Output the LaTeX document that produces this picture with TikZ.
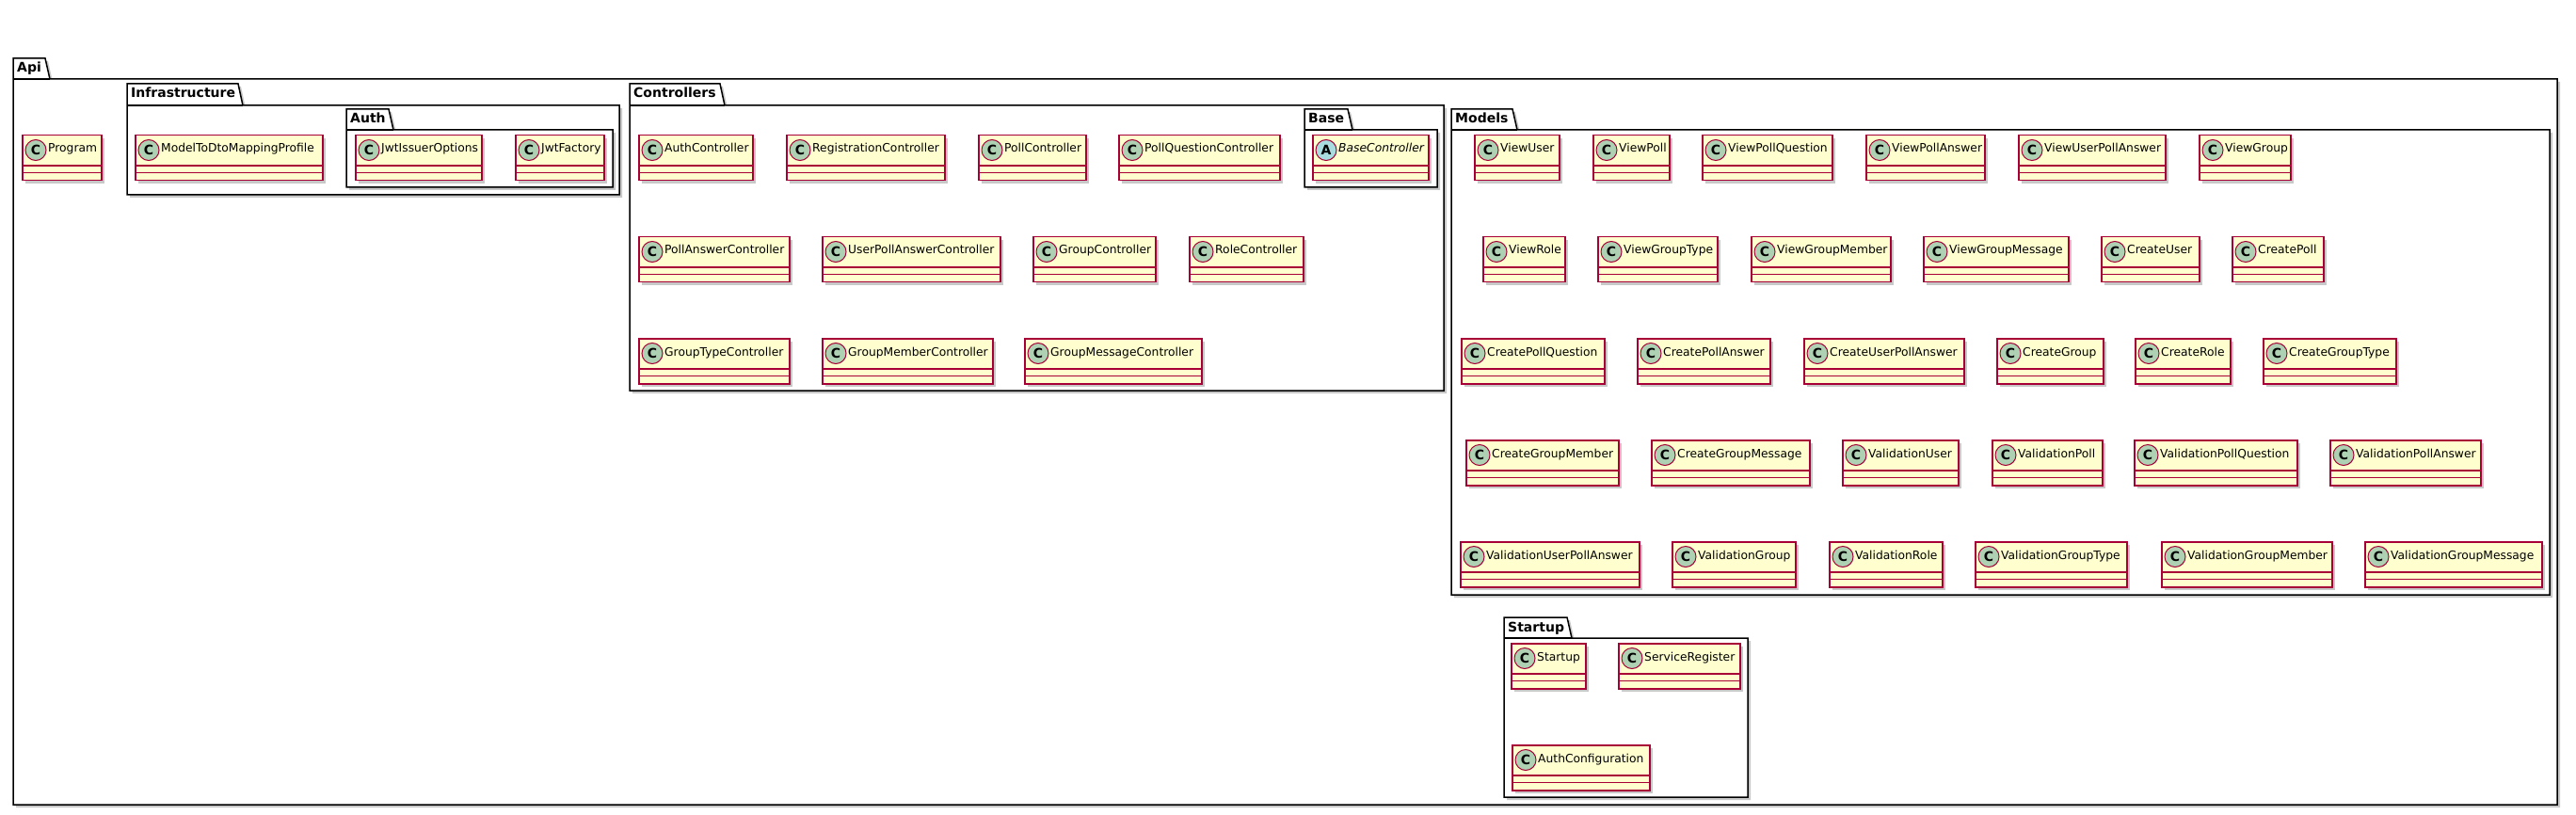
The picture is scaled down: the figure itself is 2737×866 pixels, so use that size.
\documentclass[tikz,border=0pt]{standalone}
\usepackage{fontspec}
\setmainfont{DejaVu Sans}[BoldFont={DejaVu Sans Bold},ItalicFont={DejaVu Sans Oblique}]
\usetikzlibrary{shadows}
\definecolor{clsfill}{HTML}{FEFECE}
\definecolor{clsborder}{HTML}{A80036}
\definecolor{circC}{HTML}{ADD1B2}
\definecolor{circA}{HTML}{A9DCDF}
\tikzset{
  shd/.style={drop shadow={shadow xshift=3pt,shadow yshift=-3pt,opacity=0.3,fill=black!70}},
  classbox/.style={rectangle, anchor=north west, minimum height=48pt, inner sep=0pt, draw=clsborder, fill=clsfill, line width=1.5pt, shd},
  classline/.style={draw=clsborder, line width=1.2pt},
  spot/.style={circle, minimum size=22pt, inner sep=0pt, draw=clsborder, line width=1pt, font=\bfseries\fontsize{14}{14}\selectfont},
  clsname/.style={anchor=base west, inner sep=0pt, font=\fontsize{12.3}{14}\selectfont},
  pkgline/.style={draw=black, line width=1.5pt, fill=white, shd},
  pkgname/.style={anchor=base west, inner sep=0pt, font=\bfseries\fontsize{14}{16}\selectfont},
}
\newcommand\umlcls[6][]{%
  \node[classbox, minimum width=#5pt] (#6) at (#3,#4) {};
  \draw[classline] ([yshift=-33pt]#6.north west) -- ([yshift=-33pt]#6.north east);
  \draw[classline] ([yshift=-40.5pt]#6.north west) -- ([yshift=-40.5pt]#6.north east);
  \node[spot, fill=circ#2] (#6-spot) at ([xshift=15pt,yshift=-16.5pt]#6.north west) {#2};
  \node[clsname] (#6-name) at ([xshift=28pt,yshift=-19pt]#6.north west) {#1#6};
}
\newcommand\umlpkg[7]{%
  \draw[pkgline] (#1,#4) -- (#1,#2) -- ({#3-5},#2) -- (#3,#4) -- (#5,#4) -- (#5,#6) -- (#1,#6) -- cycle;
  \draw[line width=1.5pt] (#1,#4) -- (#3,#4);
  \node[pkgname] (pkg-#7) at ({#1+4},{#2+15}) {#7};
}
\begin{document}
\begin{tikzpicture}[x=1pt,y=-1pt]
\useasboundingbox[fill=white] (0,0) rectangle (2737,866);
% packages
\umlpkg{14}{62}{53}{84}{2717}{855}{Api}
\umlpkg{135}{89}{258}{112}{658}{207}{Infrastructure}
\umlpkg{368}{116}{418}{138}{651}{199}{Auth}
\umlpkg{669}{89}{770}{112}{1534}{415}{Controllers}
\umlpkg{1386}{116}{1437}{138}{1527}{199}{Base}
\umlpkg{1542}{116}{1612}{138}{2709}{632}{Models}
\umlpkg{1598}{656}{1670}{678}{1857}{847}{Startup}
% Api / Infrastructure
\umlcls{C}{23}{143}{84}{Program}
\umlcls{C}{143}{143}{199}{ModelToDtoMappingProfile}
\umlcls{C}{377}{143}{134}{JwtIssuerOptions}
\umlcls{C}{547}{143}{94}{JwtFactory}
% Controllers
\umlcls{C}{678}{143}{121}{AuthController}
\umlcls{C}{835}{143}{168}{RegistrationController}
\umlcls{C}{1039}{143}{114}{PollController}
\umlcls{C}{1188}{143}{171}{PollQuestionController}
\umlcls[\itshape]{A}{1394}{143}{123}{BaseController}
\umlcls{C}{678}{251}{160}{PollAnswerController}
\umlcls{C}{873}{251}{189}{UserPollAnswerController}
\umlcls{C}{1097}{251}{130}{GroupController}
\umlcls{C}{1263}{251}{121}{RoleController}
\umlcls{C}{678}{359}{160}{GroupTypeController}
\umlcls{C}{873}{359}{181}{GroupMemberController}
\umlcls{C}{1088}{359}{188}{GroupMessageController}
% Models
\umlcls{C}{1566}{143}{90}{ViewUser}
\umlcls{C}{1692}{143}{81}{ViewPoll}
\umlcls{C}{1808}{143}{138}{ViewPollQuestion}
\umlcls{C}{1982}{143}{126}{ViewPollAnswer}
\umlcls{C}{2144}{143}{156}{ViewUserPollAnswer}
\umlcls{C}{2336}{143}{97}{ViewGroup}
\umlcls{C}{1575}{251}{87}{ViewRole}
\umlcls{C}{1697}{251}{127}{ViewGroupType}
\umlcls{C}{1860}{251}{148}{ViewGroupMember}
\umlcls{C}{2043}{251}{154}{ViewGroupMessage}
\umlcls{C}{2232}{251}{104}{CreateUser}
\umlcls{C}{2371}{251}{97}{CreatePoll}
\umlcls{C}{1552}{359}{152}{CreatePollQuestion}
\umlcls{C}{1739}{359}{141}{CreatePollAnswer}
\umlcls{C}{1916}{359}{170}{CreateUserPollAnswer}
\umlcls{C}{2121}{359}{113}{CreateGroup}
\umlcls{C}{2268}{359}{101}{CreateRole}
\umlcls{C}{2404}{359}{141}{CreateGroupType}
\umlcls{C}{1557}{467}{162}{CreateGroupMember}
\umlcls{C}{1754}{467}{168}{CreateGroupMessage}
\umlcls{C}{1957}{467}{123}{ValidationUser}
\umlcls{C}{2116}{467}{117}{ValidationPoll}
\umlcls{C}{2267}{467}{173}{ValidationPollQuestion}
\umlcls{C}{2475}{467}{160}{ValidationPollAnswer}
\umlcls{C}{1551}{575}{190}{ValidationUserPollAnswer}
\umlcls{C}{1776}{575}{131}{ValidationGroup}
\umlcls{C}{1943}{575}{120}{ValidationRole}
\umlcls{C}{2098}{575}{161}{ValidationGroupType}
\umlcls{C}{2296}{575}{181}{ValidationGroupMember}
\umlcls{C}{2512}{575}{188}{ValidationGroupMessage}
% Startup
\umlcls{C}{1605}{683}{79}{Startup}
\umlcls{C}{1719}{683}{129}{ServiceRegister}
\umlcls{C}{1606}{791}{146}{AuthConfiguration}
\end{tikzpicture}
\end{document}
